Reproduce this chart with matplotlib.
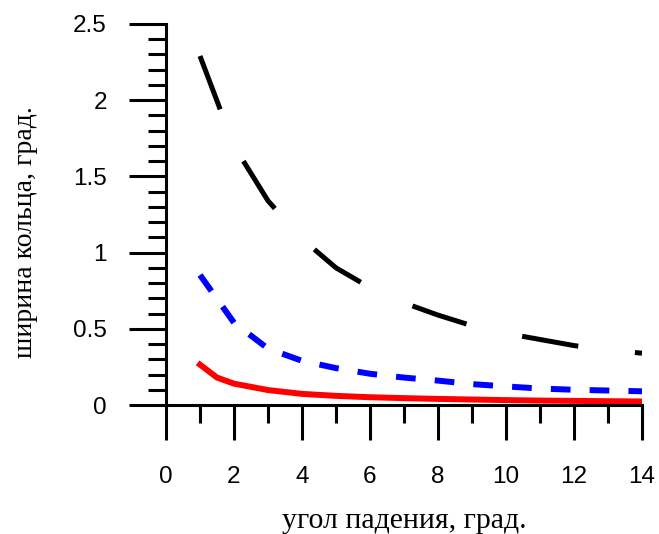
import matplotlib.pyplot as plt
from matplotlib.ticker import MultipleLocator

# values
angle = [1, 2, 3, 4, 5, 6, 7, 8, 9, 10, 11, 12, 13, 14]
width_black = [2.29, 1.70, 1.34, 1.09, 0.90, 0.77, 0.67, 0.59, 0.52, 0.47, 0.43, 0.39, 0.36, 0.34]
width_blue = [0.853, 0.54, 0.37, 0.29, 0.242, 0.205, 0.18, 0.16, 0.137, 0.122, 0.108, 0.10, 0.095, 0.09]
angle_red = [1, 1.5, 2, 3, 4, 5, 6, 7, 8, 9, 10, 11, 12, 13, 14]
width_red = [0.265, 0.18, 0.14, 0.098, 0.073, 0.06, 0.051, 0.045, 0.04, 0.036, 0.032, 0.029, 0.027, 0.025, 0.023]

fig = plt.figure(figsize=(6.59, 5.34), dpi=100)
ax = fig.add_axes([166 / 659, 129 / 534, 476 / 659, 381 / 534])

ax.plot(angle, width_black, color='black', lw=3.6, dashes=(11.4, 11.4))
ax.plot(angle, width_blue, color='blue', lw=4.3, dashes=(3.3, 3.2))
ax.plot(angle_red, width_red, color='red', lw=4.3)

ax.set_xlim(0, 14)
ax.set_ylim(0, 2.5)

for side in ['top', 'right']:
    ax.spines[side].set_visible(False)
for side in ['left', 'bottom']:
    ax.spines[side].set_linewidth(2.2)

ax.xaxis.set_major_locator(MultipleLocator(2))
ax.xaxis.set_minor_locator(MultipleLocator(1))
ax.yaxis.set_minor_locator(MultipleLocator(0.1))
ax.set_yticks([0, 0.5, 1, 1.5, 2, 2.5])
ax.set_yticklabels(['0', '0.5', '1', '1.5', '2', '2.5'])

ax.tick_params(axis='x', which='major', direction='out', length=25, width=2.2, pad=19)
ax.tick_params(axis='x', which='minor', direction='out', length=13, width=2.2)
ax.tick_params(axis='y', which='major', direction='out', length=27, width=2.2, pad=15.5)
ax.tick_params(axis='y', which='minor', direction='out', length=13, width=2.2)

for lab in ax.get_xticklabels() + ax.get_yticklabels():
    lab.set_fontfamily('Liberation Sans')
    lab.set_fontsize(17.5)

ax.set_xlabel('угол падения, град.', family='Liberation Serif', fontsize=21.5)
ax.set_ylabel('ширина кольца, град.', family='Liberation Serif', fontsize=20)
ax.xaxis.set_label_coords(0.5, -0.27)
ax.yaxis.set_label_coords(-0.268, 0.454)

fig.savefig('out.png', dpi=100)
